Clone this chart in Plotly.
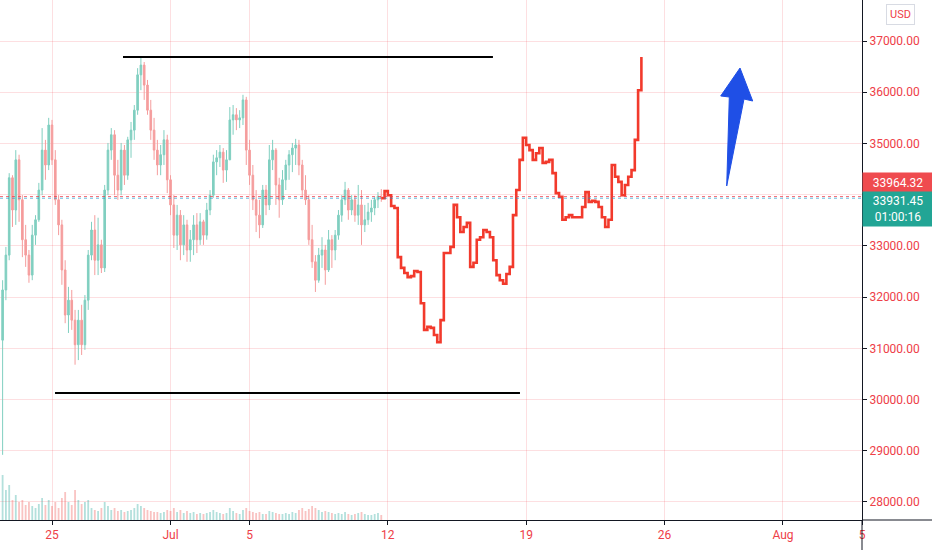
import plotly.graph_objects as go
import pandas as pd

# ---------------- data ----------------
candle_start = "2021-06-22 12:00"
candle_step = "4h"
first_open = 31160
closes = [32140, 32820, 34330, 33700, 34680, 33900, 33120, 32820, 32430, 33210,
          33510, 34090, 34870, 34580, 35360, 34680, 33900, 33410, 32530, 31650,
          31940, 31550, 31070, 31550, 31070, 31940, 32820, 33310, 32720, 33020,
          32570, 34090, 34870, 35170, 34380, 34090, 34870, 34380, 35070, 35260,
          35650, 36340, 36530, 36140, 35650, 35260, 34870, 34580, 34780, 35070,
          34290, 33800, 33210, 33600, 33020, 33410, 32920, 33120, 33410, 33120,
          33470, 33210, 33700, 33990, 34640, 34720, 34830, 34480, 34680, 35460,
          35560, 35460, 35500, 35850, 34870, 34380, 33900, 33600, 33410, 34090,
          33800, 34680, 34870, 34190, 33900, 34290, 34580, 34780, 34910, 34970,
          34580, 34090, 33900, 33120, 32690, 32330, 32820, 32920, 32530, 33120,
          32920, 33210, 33600, 33900, 34090, 33700, 33900, 33600, 33800, 33410,
          33510, 33660, 33740, 33900, 33970, 33931.45]
highs = [32330, 32980, 34420, 34380, 34870, 34780, 33990, 33410, 32920, 33410,
         33600, 34230, 35300, 35070, 35500, 35460, 34870, 33990, 33510, 32720,
         32200, 32140, 31750, 31750, 31850, 32040, 32920, 33470, 33600, 33550,
         33120, 34190, 35010, 35300, 35260, 34680, 35010, 34970, 35130, 35420,
         35750, 36470, 36690, 36590, 36240, 35850, 35500, 35070, 34970, 35260,
         35170, 34380, 33990, 33800, 33700, 33600, 33510, 33310, 33600, 33640,
         33640, 33510, 33840, 34090, 34780, 34870, 34970, 34910, 34870, 35710,
         35750, 35690, 35650, 35950, 35910, 35070, 34580, 34090, 33900, 34190,
         34190, 34970, 35070, 34910, 34330, 34480, 34680, 34870, 35010, 35090,
         35070, 34680, 34380, 33990, 33410, 32820, 32960, 33170, 33020, 33310,
         33210, 33310, 33700, 33990, 34250, 34130, 33990, 33990, 34190, 34090,
         33800, 33840, 33900, 33950, 34050, 34110]
lows = [28920, 31940, 32720, 33370, 33410, 33470, 32780, 32590, 32280, 32330,
        33020, 33470, 33990, 34290, 34480, 34580, 33800, 33210, 32240, 31490,
        31300, 31360, 30680, 30770, 30870, 30970, 31750, 32720, 32430, 32430,
        32470, 32490, 33990, 34680, 33990, 33900, 33990, 34190, 34290, 34720,
        35070, 35560, 36040, 35850, 35560, 35070, 34680, 34380, 34380, 34580,
        34030, 33600, 32960, 32920, 32720, 32820, 32690, 32690, 32820, 32860,
        33020, 33020, 33120, 33600, 33940, 34380, 34540, 34230, 34250, 34680,
        35170, 35260, 35300, 35360, 34580, 34190, 33700, 33270, 33150, 33350,
        33600, 33700, 34480, 33800, 33550, 33800, 34090, 34290, 34440, 34580,
        34380, 33950, 33800, 33020, 32570, 32100, 32280, 32570, 32240, 32490,
        32570, 32720, 33120, 33470, 33800, 33510, 33600, 33470, 33410, 33020,
        33270, 33410, 33470, 33600, 33740, 33860]
volumes = [4500, 3000, 3500, 2000, 2500, 1800, 2000, 1500, 1800, 1400,
           1200, 1600, 2200, 1500, 2000, 1400, 1800, 1200, 2200, 2800,
           1800, 1500, 3000, 2000, 1600, 1800, 2000, 1200, 1000, 900,
           1200, 1800, 1400, 1000, 1200, 900, 1000, 800, 900, 1000,
           1200, 1600, 1400, 1200, 1000, 900, 800, 800, 700, 800,
           1000, 900, 1200, 800, 1000, 700, 900, 700, 800, 600,
           700, 600, 700, 800, 1000, 800, 700, 600, 700, 1200,
           900, 700, 600, 1000, 1200, 900, 800, 700, 800, 600,
           600, 900, 800, 700, 600, 600, 700, 600, 800, 700,
           1000, 1200, 900, 1100, 1400, 1200, 1000, 800, 900, 800,
           700, 600, 700, 600, 800, 600, 500, 600, 700, 800,
           600, 500, 500, 600, 700, 500]

proj_start = "2021-07-11 16:00"
proj_prices = [33931.45, 34070, 33990, 33780, 33740, 32780, 32570, 32470, 32390, 32410,
               32510, 32490, 31880, 31360, 31420, 31400, 31260, 31120, 31550, 32860,
               32860, 32980, 33800, 33560, 33270, 33370, 33450, 32590, 32670, 33120,
               33170, 33310, 33270, 33170, 32720, 32430, 32330, 32260, 32450, 32590,
               33600, 34090, 34680, 35110, 34970, 34870, 34680, 34810, 34910, 34620,
               34640, 34680, 34420, 34030, 33960, 33510, 33560, 33600, 33560, 33560,
               33560, 33760, 34050, 33860, 33880, 33860, 33760, 33560, 33370, 33510,
               34580, 34350, 34250, 33990, 34190, 34350, 34480, 35070, 36040, 36690]

bid_price = 33964.32
last_price = 33931.45
countdown = "01:00:16"

top_line_x = ["2021-06-28 14:15", "2021-07-17 07:40"]
top_line_y = 36690
bottom_line_x = ["2021-06-25 03:40", "2021-07-18 16:30"]
bottom_line_y = 30130

arrow_x = ["2021-07-29 19:48", "2021-07-30 11:14", "2021-07-30 00:39", "2021-07-29 03:39",
           "2021-07-29 06:48", "2021-07-28 20:21", "2021-07-29 19:48"]
arrow_y = [36473, 35829, 35868, 34170, 35907, 35927, 36473]

tick_dates = ["2021-06-25", "2021-07-01", "2021-07-05", "2021-07-12",
              "2021-07-19", "2021-07-26", "2021-08-01", "2021-08-05"]
tick_text = ["25", "Jul", "5", "12", "19", "26", "Aug", "5"]
price_ticks = [28000, 29000, 30000, 31000, 32000, 33000, 34000, 35000, 36000, 37000]
price_tick_text = ["28000.00", "29000.00", "30000.00", "31000.00", "32000.00",
                   "33000.00", "", "35000.00", "36000.00", "37000.00"]

# ---------------- styling ----------------
UP = "#80cfc0"
DOWN = "#f59d9d"
RED_TXT = "#ee4048"
GRID = "rgba(242,54,69,0.16)"
FONT = "Roboto"

times = pd.date_range(candle_start, periods=len(closes), freq=candle_step)
opens = [first_open] + closes[:-1]
proj_times = pd.date_range(proj_start, periods=len(proj_prices), freq=candle_step)

vol_colors = ["rgba(38,166,154,0.35)" if c >= o else "rgba(239,83,80,0.35)"
              for o, c in zip(opens, closes)]

fig = go.Figure()

fig.add_trace(go.Bar(x=times, y=volumes, marker=dict(color=vol_colors, line=dict(width=0)),
                     yaxis="y2", showlegend=False, hoverinfo="skip"))

fig.add_trace(go.Candlestick(
    x=times, open=opens, high=highs, low=lows, close=closes,
    increasing=dict(line=dict(color=UP, width=1), fillcolor=UP),
    decreasing=dict(line=dict(color=DOWN, width=1), fillcolor=DOWN),
    whiskerwidth=0, showlegend=False))

fig.add_trace(go.Scatter(x=proj_times, y=proj_prices, mode="lines",
                         line=dict(color="#f23a2c", width=2.6, shape="hv"),
                         showlegend=False, hoverinfo="skip"))

fig.add_trace(go.Scatter(x=arrow_x, y=arrow_y, mode="lines", fill="toself",
                         fillcolor="#1f4fe6", line=dict(color="#1f4fe6", width=1),
                         showlegend=False, hoverinfo="skip"))

shapes = [
    dict(type="line", xref="x", yref="y", x0=top_line_x[0], x1=top_line_x[1],
         y0=top_line_y, y1=top_line_y, line=dict(color="#000000", width=2)),
    dict(type="line", xref="x", yref="y", x0=bottom_line_x[0], x1=bottom_line_x[1],
         y0=bottom_line_y, y1=bottom_line_y, line=dict(color="#000000", width=2)),
    dict(type="line", xref="paper", yref="y", x0=0, x1=1, y0=bid_price, y1=bid_price,
         line=dict(color="rgba(242,54,69,0.7)", width=1, dash="dot")),
    dict(type="line", xref="paper", yref="y", x0=0, x1=1, y0=last_price, y1=last_price,
         line=dict(color="rgba(33,150,200,0.7)", width=1, dash="dot")),
    dict(type="line", xref="paper", yref="paper", x0=1, x1=1, y0=-30 / 520, y1=0,
         line=dict(color="#131722", width=1)),
    dict(type="line", xref="paper", yref="paper", x0=1, x1=1 + 70 / 862, y0=0, y1=0,
         line=dict(color="#131722", width=1)),
]

annotations = [
    dict(text=f"{bid_price:.2f}", xref="paper", yref="y", x=1, y=bid_price,
         xanchor="left", yanchor="middle", yshift=14, showarrow=False,
         bgcolor="#ef4b4f", font=dict(color="white", size=12, family=FONT),
         width=66, height=15, borderpad=2, align="center"),
    dict(text=f"{last_price:.2f}<br>{countdown}", xref="paper", yref="y", x=1, y=last_price,
         xanchor="left", yanchor="middle", yshift=-11, showarrow=False,
         bgcolor="#22a595", font=dict(color="white", size=12, family=FONT),
         width=66, height=30, borderpad=2, align="center"),
    dict(text="USD", xref="paper", yref="paper", x=900 / 862, y=1 - 14 / 520,
         xanchor="center", yanchor="middle", showarrow=False,
         bgcolor="white", bordercolor="#d8dbe3", borderwidth=1, borderpad=3,
         font=dict(color=RED_TXT, size=11, family=FONT)),
]

fig.update_layout(
    width=932, height=550,
    margin=dict(l=0, r=70, t=0, b=30),
    paper_bgcolor="white", plot_bgcolor="white",
    font=dict(family=FONT, size=12, color=RED_TXT),
    shapes=shapes, annotations=annotations,
    bargap=0.45,
    xaxis=dict(type="date", range=["2021-06-22 08:50", "2021-08-05 00:00"],
               tickvals=tick_dates, ticktext=tick_text,
               showgrid=True, gridcolor=GRID, gridwidth=1,
               showline=True, linecolor="#131722", linewidth=1,
               ticks="outside", ticklen=4, tickcolor="#131722",
               tickfont=dict(color=RED_TXT, size=12, family=FONT),
               rangeslider=dict(visible=False), zeroline=False, fixedrange=True),
    yaxis=dict(side="right", range=[27648, 37801],
               tickvals=price_ticks, ticktext=price_tick_text,
               showgrid=True, gridcolor=GRID, gridwidth=1,
               showline=True, linecolor="#131722", linewidth=1,
               ticks="outside", ticklen=4, tickcolor="#131722",
               tickfont=dict(color=RED_TXT, size=12, family=FONT),
               zeroline=False),
    yaxis2=dict(overlaying="y", range=[0, 52000], visible=False),
)

fig.write_html("out.html", config={"displayModeBar": False},
               post_script="document.body.style.margin='0px';")
